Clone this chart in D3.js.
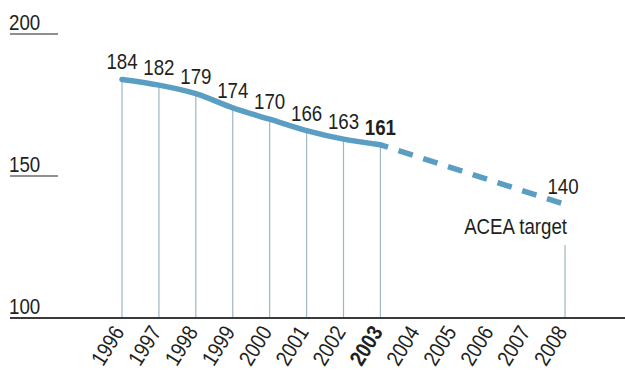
<!DOCTYPE html>
<html>
<head>
<meta charset="utf-8">
<script src="https://cdn.jsdelivr.net/npm/d3@7"></script>
<style>
  html, body { margin: 0; padding: 0; background: #fff; }
  svg { display: block; }
  text { font-family: "Liberation Sans", Arial, sans-serif; fill: #231f20; }
</style>
</head>
<body>
<svg id="chart" width="625" height="371"></svg>
<script>
// Average new-car CO2 emissions, g/km
const years = [1996, 1997, 1998, 1999, 2000, 2001, 2002, 2003, 2004, 2005, 2006, 2007, 2008];
const actualYears = [1996, 1997, 1998, 1999, 2000, 2001, 2002, 2003];
const actualValues = [184, 182, 179, 174, 170, 166, 163, 161];
const targetYear = 2008;
const targetValue = 140;
const targetLabel = "ACEA target";
const yTicks = [100, 150, 200];
const highlightYear = 2003;

const svg = d3.select("#chart");
const baseY = 318;
const narrow = 0.85;   // horizontal squeeze for a condensed look

const x = d3.scaleLinear().domain([1996, 2008]).range([122, 565]);
const y = d3.scaleLinear().domain([100, 200]).range([baseY, 34]);

const lineColor = "#5a9ec4";
const dropColor = "#9bb8c4";

// condensed text helper
function label(px, py, str, opts = {}) {
  const rot = opts.rotate ? ` rotate(${opts.rotate})` : "";
  return svg.append("text")
    .attr("transform", `translate(${px},${py})${rot} scale(${narrow},1)`)
    .attr("text-anchor", opts.anchor || "start")
    .attr("font-size", opts.size || 22)
    .attr("font-weight", opts.bold ? "bold" : "normal")
    .text(str);
}

// y ticks: short rules with labels sitting above
yTicks.forEach(t => {
  if (t !== 100) {
    svg.append("line")
      .attr("x1", 10).attr("x2", 58)
      .attr("y1", y(t)).attr("y2", y(t))
      .attr("stroke", "#231f20").attr("stroke-width", 1.2);
  }
  label(9, y(t) - 4, t);
});

// drop lines from each point to the baseline
const actual = actualYears.map((yr, i) => ({ year: yr, value: actualValues[i] }));
svg.selectAll("line.drop").data(actual).enter().append("line")
  .attr("class", "drop")
  .attr("x1", d => x(d.year)).attr("x2", d => x(d.year))
  .attr("y1", d => y(d.value)).attr("y2", baseY)
  .attr("stroke", dropColor).attr("stroke-width", 1.2);

// target drop line starts below its label
svg.append("line")
  .attr("x1", x(targetYear)).attr("x2", x(targetYear))
  .attr("y1", 245).attr("y2", baseY)
  .attr("stroke", dropColor).attr("stroke-width", 1.2);

// baseline
svg.append("line")
  .attr("x1", 10).attr("x2", 625)
  .attr("y1", baseY).attr("y2", baseY)
  .attr("stroke", "#3a3a3a").attr("stroke-width", 2);

// actual emissions line
const line = d3.line().x(d => x(d.year)).y(d => y(d.value)).curve(d3.curveMonotoneX);
svg.append("path")
  .datum(actual)
  .attr("d", line)
  .attr("fill", "none")
  .attr("stroke", lineColor)
  .attr("stroke-width", 5.5)
  .attr("stroke-linecap", "round");

// dashed projection to the target
const last = actual[actual.length - 1];
svg.append("path")
  .datum([last, { year: targetYear, value: targetValue }])
  .attr("d", d3.line().x(d => x(d.year)).y(d => y(d.value)))
  .attr("fill", "none")
  .attr("stroke", lineColor)
  .attr("stroke-width", 5.5)
  .attr("stroke-dasharray", "15 11")
  .attr("stroke-dashoffset", 7);

// value labels
actual.forEach(d => {
  label(x(d.year), y(d.value) - 10, d.value, { anchor: "middle", bold: d.year === highlightYear });
});
label(x(targetYear) - 2, y(targetValue) - 10, targetValue, { anchor: "middle" });
label(x(targetYear) + 2, 234, targetLabel, { anchor: "end" });

// rotated year labels
years.forEach(yr => {
  label(x(yr) + 3, baseY + 14, yr, { anchor: "end", rotate: -58, size: 22, bold: yr === highlightYear });
});
</script>
</body>
</html>
